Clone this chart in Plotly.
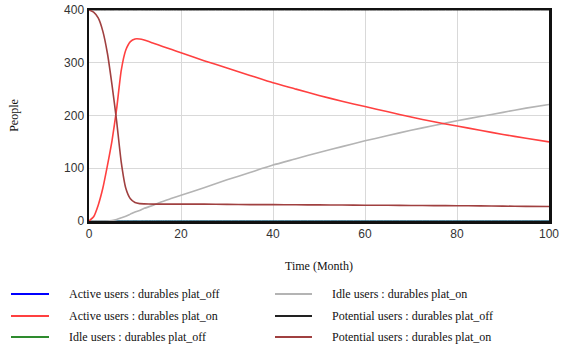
import plotly.graph_objects as go

# ---- data ----
time = [0, 1, 2, 3, 4, 5, 6, 7, 8, 9, 10, 11, 12, 14, 16, 18, 20, 25, 30, 35, 40,
        45, 50, 55, 60, 65, 70, 75, 80, 85, 90, 95, 100]

active_on = [0, 8, 30, 62, 105, 152, 212, 285, 324, 340, 345, 345, 343, 337, 331, 325,
             319, 304, 290, 276, 262, 250, 238, 227, 217, 207, 197, 188, 180, 172, 164, 157, 150]
potential_on = [400, 396, 385, 360, 318, 258, 190, 112, 62, 42, 35, 33, 32.5, 32, 32, 32,
                32, 32, 31.5, 31, 31, 30.8, 30.5, 30.3, 30, 29.8, 29.5, 29.2, 29, 28.6, 28.2, 27.8, 27.5]
idle_on = [0, 0, 0, 0, 0, 1, 3, 6, 9, 13, 17, 20, 24, 30, 37, 43,
           49, 63, 78, 92, 106, 118, 130, 141, 152, 162, 172, 181, 190, 198, 206, 214, 221]
active_off = [0 for _ in time]
idle_off = [0 for _ in time]
potential_off = [400 for _ in time]

series_names = [
    "Active users : durables plat_off",
    "Active users : durables plat_on",
    "Idle users : durables plat_off",
    "Idle users : durables plat_on",
    "Potential users : durables plat_off",
    "Potential users : durables plat_on",
]
series_values = [active_off, active_on, idle_off, idle_on, potential_off, potential_on]
colors = ["#0000ff", "#ff4040", "#2e8b2e", "#b4b4b4", "#222222", "#a04040"]
widths = [1, 1.6, 1, 1.6, 1, 1.6]

x_ticks = [0, 20, 40, 60, 80, 100]
y_ticks = [0, 100, 200, 300, 400]

# ---- figure ----
W, H = 564, 347
plot_left, plot_right, plot_top, plot_bottom = 89, 549, 10, 221
L, R, T, B = plot_left, W - plot_right, plot_top, H - plot_bottom
pw, ph = plot_right - plot_left, plot_bottom - plot_top

fig = go.Figure()
draw_order = [0, 2, 4, 3, 1, 5]
for i in draw_order:
    fig.add_trace(go.Scatter(
        x=time, y=series_values[i], mode="lines", name=series_names[i],
        line=dict(color=colors[i], width=widths[i], shape="spline", smoothing=0.5),
        showlegend=False, hoverinfo="skip"))

def px_x(p):
    return (p - L) / pw

def px_y(p):
    return (plot_bottom - p) / ph

shapes = []
annotations = []
rows = [294, 316, 337]
cols = [(11, 49, 67), (275, 312, 330)]
for k, name in enumerate(series_names):
    c = k // 3
    r = k % 3
    x0, x1, xt = cols[c]
    yy = px_y(rows[r])
    shapes.append(dict(type="line", xref="paper", yref="paper",
                       x0=px_x(x0), x1=px_x(x1), y0=yy, y1=yy,
                       line=dict(color=colors[k], width=2)))
    annotations.append(dict(xref="paper", yref="paper", x=px_x(xt), y=yy,
                            text=name, showarrow=False, xanchor="left", yanchor="middle",
                            font=dict(family="Liberation Serif", size=12, color="#111111")))

fig.update_layout(
    width=W, height=H,
    margin=dict(l=L, r=R, t=T, b=B, autoexpand=False),
    paper_bgcolor="white", plot_bgcolor="white",
    showlegend=False,
    shapes=shapes, annotations=annotations,
    font=dict(family="Liberation Sans", size=12, color="#333333"),
)
fig.update_xaxes(
    range=[0, 100], tickvals=x_ticks, showgrid=True, gridcolor="#d9d9d9", gridwidth=1,
    showline=True, linecolor="#111111", linewidth=2.5, mirror=True, zeroline=False,
    ticks="", tickfont=dict(family="Liberation Sans", size=12, color="#333333"),
    title=dict(text="Time (Month)", standoff=22,
               font=dict(family="Liberation Serif", size=12, color="#111111")),
)
fig.update_yaxes(
    range=[0, 400], tickvals=y_ticks, showgrid=True, gridcolor="#d9d9d9", gridwidth=1,
    showline=True, linecolor="#111111", linewidth=2.5, mirror=True, zeroline=False,
    ticks="", tickfont=dict(family="Liberation Sans", size=12, color="#333333"),
    title=dict(text="People", standoff=43,
               font=dict(family="Liberation Serif", size=12, color="#111111")),
)

fig.write_html("out.html", config={"displayModeBar": False, "staticPlot": True},
               post_script="document.body.style.margin='0px';")
